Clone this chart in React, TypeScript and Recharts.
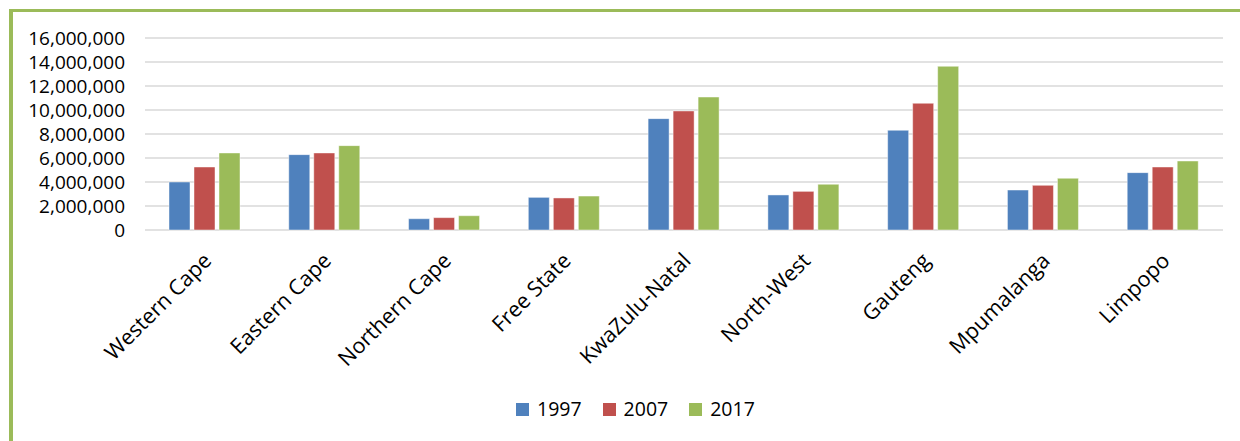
import React from "react";
import { BarChart, Bar, XAxis, YAxis, CartesianGrid } from "recharts";

// Population by province (mid-year estimates)
const provinces = [
  "Western Cape",
  "Eastern Cape",
  "Northern Cape",
  "Free State",
  "KwaZulu-Natal",
  "North-West",
  "Gauteng",
  "Mpumalanga",
  "Limpopo",
];
const pop1997 = [4000000, 6280000, 940000, 2720000, 9280000, 2920000, 8310000, 3330000, 4780000];
const pop2007 = [5250000, 6420000, 1030000, 2670000, 9920000, 3220000, 10560000, 3720000, 5250000];
const pop2017 = [6420000, 7030000, 1190000, 2830000, 11080000, 3810000, 13640000, 4310000, 5750000];

const years = ["1997", "2007", "2017"];
const colors = ["#4F81BD", "#C0504D", "#9BBB59"];
const yTicks = [0, 2000000, 4000000, 6000000, 8000000, 10000000, 12000000, 14000000, 16000000];

const data = provinces.map((name, i) => ({
  name,
  "1997": pop1997[i],
  "2007": pop2007[i],
  "2017": pop2017[i],
}));

const FONT = "'Open Sans', 'Noto Sans', sans-serif";

const fmt = (v: number) => v.toLocaleString("en-US");

function ProvinceTick(props: any) {
  const { x, y, payload } = props;
  const ax = x + 8;
  const ay = y + 32;
  return (
    <text
      x={ax}
      y={ay}
      transform={`rotate(-45, ${ax}, ${ay})`}
      textAnchor="end"
      fontSize={21.5}
      fontFamily={FONT}
      fill="#000"
    >
      {payload.value}
    </text>
  );
}

function YearLegend() {
  return (
    <div
      style={{
        position: "absolute",
        left: 516,
        top: 397,
        display: "flex",
        alignItems: "center",
        fontFamily: FONT,
        fontSize: 19.5,
        color: "#000",
        lineHeight: "24px",
      }}
    >
      {years.map((yr, i) => (
        <div key={yr} style={{ display: "flex", alignItems: "center", marginRight: 21 }}>
          <span style={{ width: 13, height: 13, background: colors[i], marginRight: 8, display: "inline-block" }} />
          <span>{yr}</span>
        </div>
      ))}
    </div>
  );
}

export default function App() {
  return (
    <div style={{ position: "absolute", left: 0, top: 0, width: 1240, height: 441, background: "#fff", overflow: "hidden" }}>
      {/* green frame on the top and left edges */}
      <div
        style={{
          position: "absolute",
          left: 9,
          top: 9,
          width: 1260,
          height: 460,
          borderTop: "3px solid #9BBB59",
          borderLeft: "4px solid #9BBB59",
        }}
      />
      <BarChart
        width={1240}
        height={441}
        data={data}
        margin={{ top: 38, right: 17, left: 0, bottom: 11 }}
        style={{ position: "absolute", left: 0, top: 0 }}
      >
        <CartesianGrid vertical={false} stroke="#D9D9D9" strokeWidth={1.5} />
        <XAxis
          dataKey="name"
          interval={0}
          height={200}
          tickSize={0}
          tickMargin={0}
          axisLine={false}
          tickLine={false}
          tick={<ProvinceTick />}
        />
        <YAxis
          width={145}
          domain={[0, 16000000]}
          ticks={yTicks}
          interval={0}
          tickFormatter={fmt}
          axisLine={false}
          tickLine={false}
          tickSize={0}
          tickMargin={20}
          tick={{ fontSize: 19, fontFamily: FONT, fill: "#000" }}
        />
        {years.map((yr, i) => (
          <Bar
            key={yr}
            dataKey={yr}
            fill={colors[i]}
            barSize={21}
            stroke="rgba(255,255,255,0.45)"
            strokeWidth={1}
            isAnimationActive={false}
          />
        ))}
      </BarChart>
      <YearLegend />
    </div>
  );
}
